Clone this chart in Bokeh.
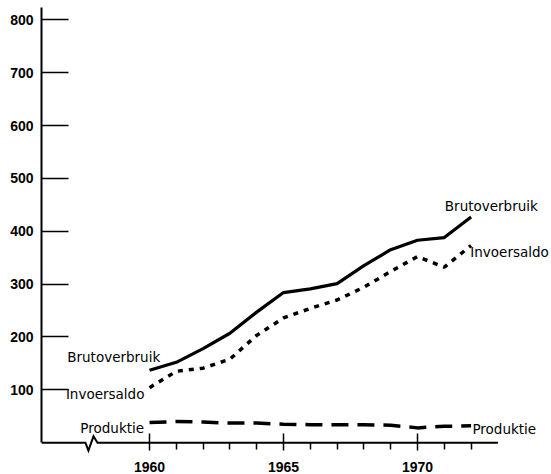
from bokeh.plotting import figure
from bokeh.models import Range1d, FixedTicker
from bokeh.core.properties import value
from bokeh.embed import file_html
from bokeh.resources import INLINE

years = [1960, 1961, 1962, 1963, 1964, 1965, 1966, 1967, 1968, 1969, 1970, 1971, 1972]
brutoverbruik = [137, 152, 178, 207, 247, 284, 291, 301, 335, 365, 383, 388, 427]
invoersaldo = [104, 135, 141, 158, 203, 236, 254, 270, 294, 324, 352, 332, 373]
produktie = [38, 40, 39, 37, 37, 35, 34, 34, 34, 33, 28, 31, 32]

y_ticks = [100, 200, 300, 400, 500, 600, 700, 800]
x_major = [1960, 1965, 1970]
x_minor = [1961, 1962, 1963, 1964, 1966, 1967, 1968, 1969, 1971, 1972]

FONT = "DejaVu Sans"
TICKFONT = "Liberation Sans"

X0, X1 = 1955.97, 1975.0
Y0, Y1 = -60.2, 823.3

p = figure(width=551, height=474, output_backend="svg", toolbar_location=None,
           x_range=Range1d(X0, X1), y_range=Range1d(Y0, Y1),
           min_border_left=41, min_border_right=0, min_border_top=7,
           min_border_bottom=0)
p.outline_line_color = None
p.xgrid.visible = False
p.ygrid.visible = False
p.background_fill_color = "white"
p.border_fill_color = "white"

# y axis
p.yaxis.ticker = FixedTicker(ticks=y_ticks)
p.yaxis.bounds = (0, Y1)
p.yaxis.axis_line_width = 2
p.yaxis.axis_line_color = "black"
p.yaxis.major_tick_in = 27
p.yaxis.major_tick_out = 0
p.yaxis.major_tick_line_width = 1.5
p.yaxis.minor_tick_line_color = None
p.yaxis.major_label_standoff = 8
p.yaxis.major_label_text_font = TICKFONT
p.yaxis.major_label_text_font_style = "bold"
p.yaxis.major_label_text_font_size = "14px"
p.yaxis.major_label_text_color = "black"

# x axis, placed at y = 0 inside the frame
p.xaxis.fixed_location = 0
p.xaxis.ticker = FixedTicker(ticks=x_major, minor_ticks=x_minor)
p.xaxis.axis_line_color = None
p.xaxis.major_tick_in = 9
p.xaxis.major_tick_out = 8
p.xaxis.major_tick_line_width = 1.5
p.xaxis.minor_tick_in = 0
p.xaxis.minor_tick_out = 7
p.xaxis.minor_tick_line_width = 1.5
p.xaxis.minor_tick_line_color = "black"
p.xaxis.major_label_standoff = 11
p.xaxis.major_label_text_font = TICKFONT
p.xaxis.major_label_text_font_style = "bold"
p.xaxis.major_label_text_font_size = "14px"
p.xaxis.major_label_text_color = "black"

# x axis line with break symbol
axis_x = [X0, 1957.61, 1957.72, 1957.91, 1958.06, 1973.0]
axis_y = [0, 0, -15, 12, 0, 0]
p.line(axis_x, axis_y, line_color="black", line_width=2, line_join="miter")

# series
p.line(years, brutoverbruik, line_color="black", line_width=3.2)
p.line(years, invoersaldo, line_color="black", line_width=3.5, line_dash="5 6")
p.line(years, produktie, line_color="black", line_width=3.5, line_dash="17 9")

# labels
lab_x = [1956.93, 1956.88, 1957.42, 1971.02, 1971.97, 1972.05]
lab_y = [162, 92.5, 27.4, 448.7, 360.8, 26.3]
lab_t = ["Brutoverbruik", "Invoersaldo", "Produktie", "Brutoverbruik", "Invoersaldo", "Produktie"]
p.text(lab_x, lab_y, text=lab_t, text_font=value(FONT), text_font_size="13.5px",
       text_color="black", text_align="left", text_baseline="alphabetic")

open("out.html", "w").write(file_html(p, INLINE))
